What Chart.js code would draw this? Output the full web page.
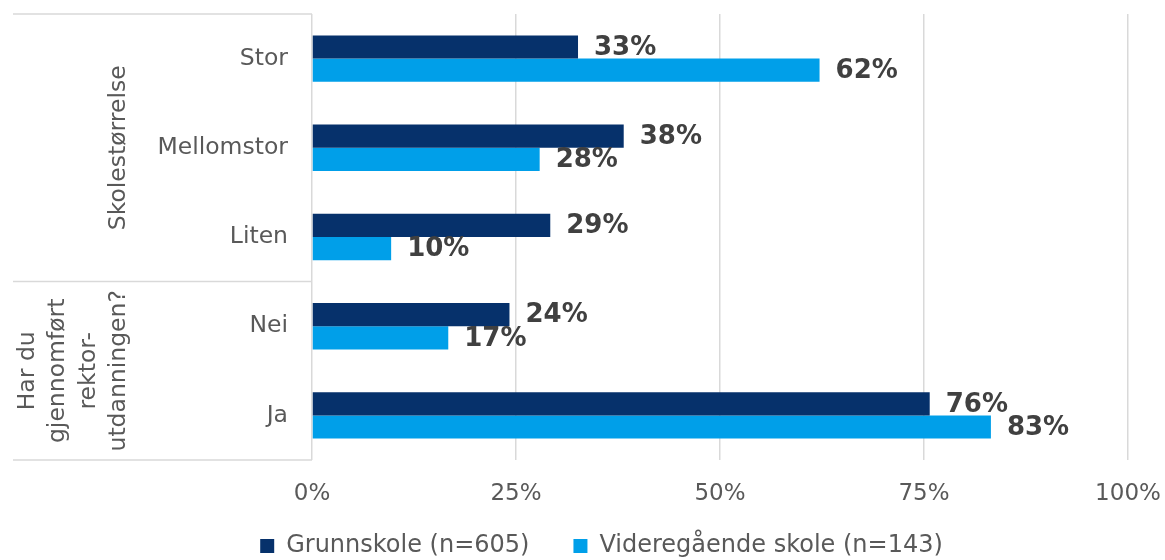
<!DOCTYPE html>
<html>
<head>
<meta charset="utf-8">
<script src="https://cdn.jsdelivr.net/npm/chart.js@4.4.1/dist/chart.umd.min.js"></script>
<style>
  html,body{margin:0;padding:0;background:#fff;}
</style>
</head>
<body>
<canvas id="c" width="1165" height="560"></canvas>
<script>
const categories = ['Stor', 'Mellomstor', 'Liten', 'Nei', 'Ja'];
const groupLabels = [['Skolestørrelse'], ['Har du', 'gjennomført', 'rektor-', 'utdanningen?']];
const groupSizes = [3, 2];
const seriesNames = ['Grunnskole (n=605)', 'Videregående skole (n=143)'];
const grunnskole = [0.326, 0.382, 0.292, 0.242, 0.757];
const videregaende = [0.622, 0.279, 0.097, 0.167, 0.832];
const xTicks = [0, 0.25, 0.5, 0.75, 1];

const FONT = "'DejaVu Sans', Verdana, sans-serif";
const TXT = '#595959';
const LINE = '#d9d9d9';

function pct(v){ return Math.round(v*100) + '%'; }

// value labels at bar ends
const valueLabels = {
  id:'valueLabels',
  afterDatasetsDraw(chart){
    const ctx = chart.ctx;
    ctx.save();
    ctx.font = 'bold 26px ' + FONT;
    ctx.fillStyle = '#404040';
    ctx.textAlign = 'left';
    ctx.textBaseline = 'middle';
    chart.data.datasets.forEach((ds, i) => {
      chart.getDatasetMeta(i).data.forEach((bar, j) => {
        ctx.fillText(pct(ds.data[j]), bar.x + 16, bar.y + 1);
      });
    });
    ctx.restore();
  }
};

// grouped category axis: separators + rotated group titles
const groupAxis = {
  id:'groupAxis',
  afterDraw(chart){
    const ctx = chart.ctx, ys = chart.scales.y, area = chart.chartArea;
    const bounds = [area.top];
    let idx = 0;
    groupSizes.forEach((n, g) => {
      idx += n;
      bounds.push(g === groupSizes.length-1 ? area.bottom
        : (ys.getPixelForValue(idx-1) + ys.getPixelForValue(idx)) / 2);
    });
    ctx.save();
    ctx.strokeStyle = LINE;
    ctx.lineWidth = 1.5;
    for (const b of bounds){
      ctx.beginPath();
      ctx.moveTo(ys.left, b);
      ctx.lineTo(area.left, b);
      ctx.stroke();
    }
    ctx.fillStyle = TXT;
    ctx.font = '23.5px ' + FONT;
    ctx.textAlign = 'center';
    ctx.textBaseline = 'middle';
    groupLabels.forEach((lines, g) => {
      const cy = (bounds[g] + bounds[g+1]) / 2;
      lines.forEach((t, k) => {
        const x = ys.left + 106 - (lines.length-1-k) * 30.5;
        ctx.save();
        ctx.translate(x, cy);
        ctx.rotate(-Math.PI/2);
        ctx.fillText(t, 0, 0);
        ctx.restore();
      });
    });
    ctx.restore();
  }
};

// move the legend row to where the original has it
const legendShift = {
  id:'legendShift',
  beforeDraw(chart){
    const lg = chart.legend;
    if(!lg) return;
    lg.left += 31; lg.right += 31;
    lg.top -= 30; lg.bottom -= 30;
    lg.adjustHitBoxes();
  }
};

new Chart(document.getElementById('c'), {
  type:'bar',
  data:{
    labels: categories,
    datasets:[
      { label: seriesNames[0], data: grunnskole, backgroundColor:'#06316b' },
      { label: seriesNames[1], data: videregaende, backgroundColor:'#009fe9' }
    ]
  },
  options:{
    indexAxis:'y',
    responsive:false,
    animation:false,
    devicePixelRatio:1,
    datasets:{ bar:{ barPercentage:1, categoryPercentage:0.52 } },
    layout:{ padding:{ left:13, top:14, right:37, bottom:-38 } },
    plugins:{
      legend:{
        position:'bottom',
        labels:{ font:{ family:FONT, size:24 }, color:TXT, boxWidth:14, boxHeight:14, padding:44 }
      },
      tooltip:{ enabled:false }
    },
    scales:{
      x:{
        min:0, max:1,
        afterBuildTicks: s => { s.ticks = xTicks.map(v => ({ value:v })); },
        afterFit: s => { s.height = 60; s.paddingLeft = 0; s.paddingRight = 0; },
        ticks:{ callback: v => pct(v), font:{ family:FONT, size:23 }, color:TXT, padding:20, maxRotation:0 },
        grid:{ color:LINE, lineWidth:1.5, drawTicks:false },
        border:{ display:false }
      },
      y:{
        afterFit: s => { s.width = 299; s.paddingTop = 0; s.paddingBottom = 0; },
        ticks:{ font:{ family:FONT, size:23.5 }, color:TXT, padding:24 },
        grid:{ display:false, drawTicks:false },
        border:{ display:false }
      }
    }
  },
  plugins:[valueLabels, groupAxis, legendShift]
});
</script>
</body>
</html>
